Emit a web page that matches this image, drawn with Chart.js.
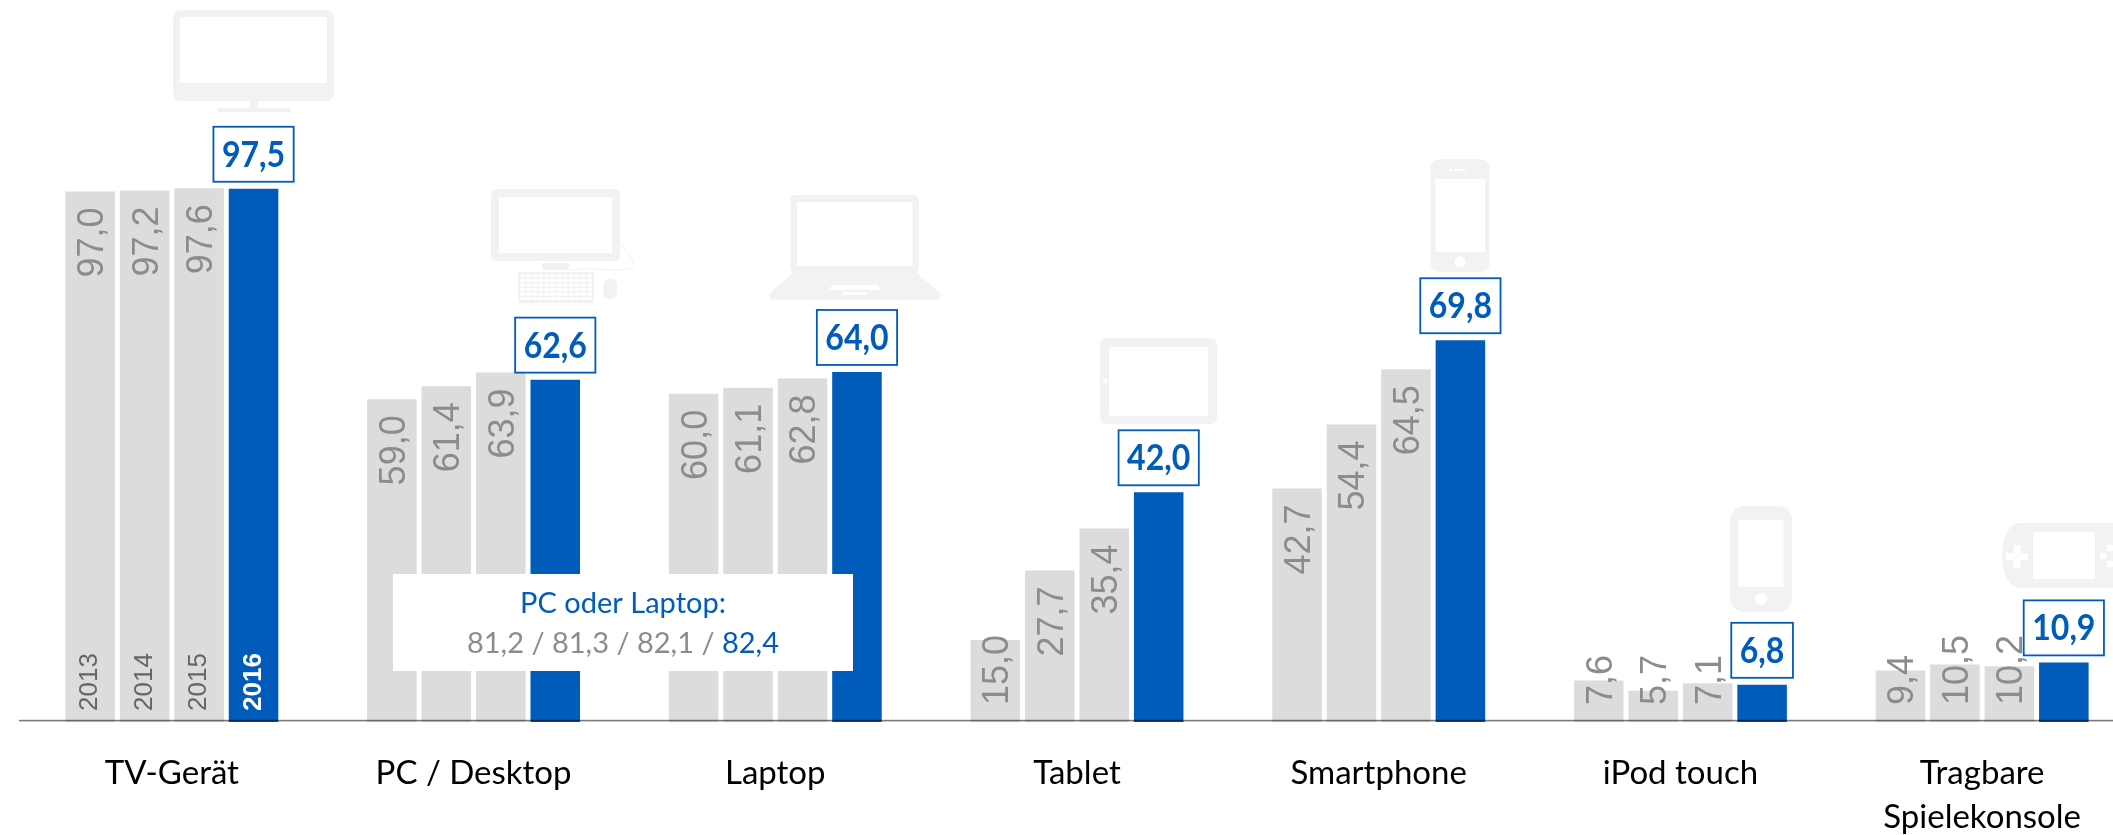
<!DOCTYPE html>
<html lang="de">
<head>
    <meta charset="UTF-8">
    <title>Geräte-Besitz 2013-2016</title>
    <script src="https://cdn.jsdelivr.net/npm/chart.js"></script>
    <style>
        html, body { margin: 0; padding: 0; background: #fff; overflow: hidden; }
        #wrap { width: 2140px; height: 835px; }
    </style>
</head>
<body>
<div id="wrap"><canvas id="deviceChart" width="2140" height="835"></canvas></div>

<script>
    const categories = ['TV-Gerät', 'PC / Desktop', 'Laptop', 'Tablet', 'Smartphone', 'iPod touch', ['Tragbare', 'Spielekonsole']];
    const years = ['2013', '2014', '2015', '2016'];
    const values2013 = [97.0, 59.0, 60.0, 15.0, 42.7, 7.6, 9.4];
    const values2014 = [97.2, 61.4, 61.1, 27.7, 54.4, 5.7, 10.5];
    const values2015 = [97.6, 63.9, 62.8, 35.4, 64.5, 7.1, 10.2];
    const values2016 = [97.5, 62.6, 64.0, 42.0, 69.8, 6.8, 10.9];
    const pcOrLaptop = ['81,2', '81,3', '82,1', '82,4'];

    const GREY = '#dcdcdc';
    const BLUE = '#005bbb';
    const ICON = '#f1f2f4';
    const fmt = v => v.toFixed(1).replace('.', ',');

    function rr(ctx, x0, y0, x1, y1, r, color) {
        ctx.fillStyle = color;
        ctx.beginPath();
        ctx.roundRect(x0, y0, x1 - x0, y1 - y0, r);
        ctx.fill();
    }

    // grey device pictures above the blue bars
    function drawIcons(ctx) {
        // TV
        rr(ctx, 173, 10, 334, 101, 8, ICON);
        rr(ctx, 180, 17, 327, 83, 2, '#fff');
        rr(ctx, 250, 101, 258, 108, 0, ICON);
        rr(ctx, 217, 108, 291, 112, 0, ICON);

        // PC with keyboard and mouse
        rr(ctx, 491, 189, 620, 261, 5, ICON);
        rr(ctx, 499, 197, 612, 253, 0, '#fff');
        rr(ctx, 542, 263, 569, 270, 2, ICON);
        ctx.strokeStyle = ICON;
        ctx.lineWidth = 1;
        ctx.beginPath();
        ctx.moveTo(569, 270);
        ctx.bezierCurveTo(600, 266, 630, 275, 633, 265);
        ctx.bezierCurveTo(634, 258, 625, 250, 620, 243);
        ctx.stroke();
        rr(ctx, 518, 272, 594, 303, 2, ICON);
        ctx.fillStyle = '#fff';
        for (let row = 0; row < 6; row++) {
            for (let k = 0; k < 12; k++) {
                ctx.fillRect(520 + k * 6.1, 274.5 + row * 4.5, 5, 3.2);
            }
        }
        rr(ctx, 603.5, 279, 617, 299, 6, ICON);

        // Laptop
        rr(ctx, 790.5, 195, 919, 273, 5, ICON);
        rr(ctx, 797, 202, 912.5, 266, 0, '#fff');
        ctx.fillStyle = ICON;
        ctx.beginPath();
        ctx.moveTo(794, 272);
        ctx.lineTo(916, 272);
        ctx.lineTo(940, 293);
        ctx.quadraticCurveTo(942, 300, 935, 300);
        ctx.lineTo(775, 300);
        ctx.quadraticCurveTo(768, 300, 770, 293);
        ctx.closePath();
        ctx.fill();
        ctx.fillStyle = '#fff';
        ctx.beginPath();
        ctx.moveTo(832, 285);
        ctx.lineTo(878, 285);
        ctx.lineTo(881, 290);
        ctx.lineTo(829, 290);
        ctx.closePath();
        ctx.fill();
        ctx.fillRect(843, 292, 24, 3);

        // Tablet
        rr(ctx, 1100, 338, 1217, 424, 6, ICON);
        rr(ctx, 1109, 347, 1208, 416, 1, '#fff');
        ctx.fillStyle = '#fff';
        ctx.beginPath();
        ctx.arc(1105, 381, 2.5, 0, Math.PI * 2);
        ctx.fill();

        // Smartphone
        rr(ctx, 1430.5, 159, 1489.5, 272, 9, ICON);
        rr(ctx, 1435.5, 179, 1485, 252, 0, '#fff');
        ctx.fillStyle = '#fff';
        ctx.beginPath();
        ctx.arc(1460, 261.5, 5.5, 0, Math.PI * 2);
        ctx.fill();
        ctx.fillRect(1454.5, 169, 11, 2);
        ctx.fillRect(1449, 169, 3, 2);

        // iPod touch
        rr(ctx, 1730, 506, 1792, 612, 14, ICON);
        rr(ctx, 1738.5, 520, 1783.5, 587, 0, '#fff');
        ctx.fillStyle = '#fff';
        ctx.beginPath();
        ctx.arc(1761, 599, 6, 0, Math.PI * 2);
        ctx.fill();

        // Spielekonsole, cut off by the picture edge
        ctx.fillStyle = ICON;
        ctx.beginPath();
        ctx.moveTo(2020, 523);
        ctx.lineTo(2150, 523);
        ctx.lineTo(2150, 588);
        ctx.lineTo(2020, 588);
        ctx.bezierCurveTo(2008, 588, 2002, 570, 2002, 556);
        ctx.bezierCurveTo(2002, 540, 2008, 523, 2020, 523);
        ctx.fill();
        rr(ctx, 2033, 532, 2095, 579, 0, '#fff');
        ctx.fillStyle = '#fff';
        ctx.fillRect(2006, 553, 22, 7);
        ctx.fillRect(2013.5, 545, 7, 23);
        [[2103, 556], [2110, 548], [2110, 564]].forEach(p => {
            ctx.beginPath();
            ctx.arc(p[0], p[1], 3.5, 0, Math.PI * 2);
            ctx.fill();
        });
    }

    const iconPlugin = {
        id: 'icons',
        beforeDatasetsDraw(chart) {
            drawIcons(chart.ctx);
        }
    };

    function rotatedText(ctx, text, x, y, font, color) {
        ctx.save();
        ctx.translate(x, y);
        ctx.rotate(-Math.PI / 2);
        ctx.font = font;
        ctx.fillStyle = color;
        ctx.textAlign = 'left';
        ctx.textBaseline = 'middle';
        ctx.fillText(text, 0, 0);
        ctx.restore();
    }

    const labelPlugin = {
        id: 'barLabels',
        afterDatasetsDraw(chart) {
            const ctx = chart.ctx;
            const yBase = chart.scales.y.getPixelForValue(0);

            // axis line sits just above the bar feet and darkens them
            ctx.fillStyle = 'rgba(0,0,0,0.52)';
            ctx.fillRect(19, yBase - 2.2, chart.width, 1.6);

            const font = '36px "Liberation Sans"';
            for (let d = 0; d < 3; d++) {
                const meta = chart.getDatasetMeta(d);
                meta.data.forEach((bar, i) => {
                    const text = fmt(chart.data.datasets[d].data[i]);
                    ctx.font = font;
                    const len = ctx.measureText(text).width;
                    const top = Math.min(bar.y + 16, yBase - 17 - len);
                    rotatedText(ctx, text, bar.x + 3, top + len, font, '#8c8c8c');
                });
            }

            // year names in the first group
            years.forEach((year, d) => {
                const bar = chart.getDatasetMeta(d).data[0];
                const last = d === years.length - 1;
                rotatedText(ctx, year, bar.x, yBase - 11,
                    (last ? 'bold ' : '') + '26px "Liberation Sans"', last ? '#fff' : '#666');
            });

            // boxed 2016 values
            chart.getDatasetMeta(3).data.forEach((bar, i) => {
                const text = fmt(values2016[i]);
                ctx.font = 'bold 36px Lato';
                const textW = ctx.measureText(text).width * 0.89;
                const w = textW + 17;
                const h = 55;
                const bottom = bar.y - 7;
                ctx.fillStyle = '#fff';
                ctx.fillRect(bar.x - w / 2, bottom - h, w, h);
                ctx.strokeStyle = BLUE;
                ctx.lineWidth = 1.8;
                ctx.strokeRect(bar.x - w / 2, bottom - h, w, h);
                ctx.save();
                ctx.translate(bar.x, bottom - h / 2 + 1);
                ctx.scale(0.89, 1);
                ctx.fillStyle = BLUE;
                ctx.textAlign = 'center';
                ctx.textBaseline = 'middle';
                ctx.fillText(text, 0, 0);
                ctx.restore();
            });

            // PC oder Laptop note
            ctx.fillStyle = '#fff';
            ctx.fillRect(393, 574, 460, 97);
            ctx.textBaseline = 'alphabetic';
            ctx.textAlign = 'center';
            ctx.font = '29px Lato';
            ctx.fillStyle = BLUE;
            ctx.fillText('PC oder Laptop:', 623, 613);
            const head = pcOrLaptop.slice(0, 3).join(' / ') + ' / ';
            const tail = pcOrLaptop[3];
            const total = ctx.measureText(head + tail).width;
            ctx.textAlign = 'left';
            ctx.fillStyle = '#8c8c8c';
            ctx.fillText(head, 623 - total / 2, 653);
            ctx.fillStyle = BLUE;
            ctx.fillText(tail, 623 - total / 2 + ctx.measureText(head).width, 653);
        }
    };

    const makeSet = (label, data, color) => ({
        label: label,
        data: data,
        backgroundColor: color,
        borderWidth: 0,
        categoryPercentage: 0.722,
        barPercentage: 0.91
    });

    new Chart(document.getElementById('deviceChart').getContext('2d'), {
        type: 'bar',
        data: {
            labels: categories,
            datasets: [
                makeSet(years[0], values2013, GREY),
                makeSet(years[1], values2014, GREY),
                makeSet(years[2], values2015, GREY),
                makeSet(years[3], values2016, BLUE)
            ]
        },
        options: {
            responsive: false,
            animation: false,
            layout: { padding: { left: 21, right: 7, top: 11, bottom: 0 } },
            plugins: { legend: { display: false }, tooltip: { enabled: false } },
            scales: {
                x: {
                    afterFit: scale => { scale.height = 835 - 722; },
                    grid: { display: false, drawTicks: false },
                    border: { display: false },
                    ticks: {
                        color: '#000',
                        font: { family: 'Lato', size: 33, lineHeight: 1.35 },
                        padding: 29,
                        maxRotation: 0,
                        autoSkip: false
                    }
                },
                y: {
                    display: false,
                    min: 0,
                    max: 130
                }
            }
        },
        plugins: [iconPlugin, labelPlugin]
    });
</script>
</body>
</html>
